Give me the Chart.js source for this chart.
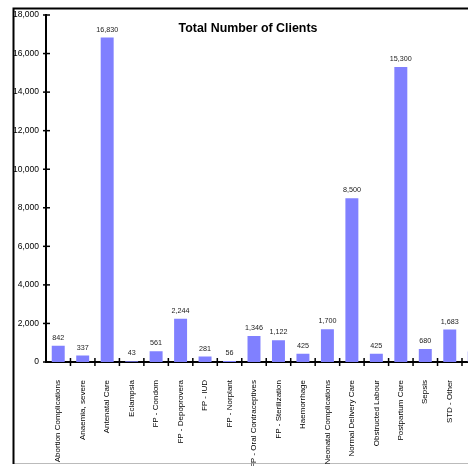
<!DOCTYPE html>
<html>
<head>
<meta charset="utf-8">
<script src="https://cdn.jsdelivr.net/npm/chart.js@4.4.1/dist/chart.umd.min.js"></script>
<style>
    html, body { margin: 0; padding: 0; background: #fff; overflow: hidden; }
    #wrap { position: relative; width: 502px; height: 466px; }
    #chart-title {
        position: absolute; left: 148px; top: 21px; width: 200px; text-align: center;
        font: bold 12.4px "Liberation Sans", Arial, sans-serif; color: #000; white-space: nowrap;
    }
</style>
</head>
<body>
<div id="wrap">
    <canvas id="clientsChart"></canvas>
    <div id="chart-title">Total Number of Clients</div>
</div>
<script>
        // ============= DATA =============
        const categories = [
            'Abortion Complications', 'Anaemia, severe', 'Antenatal Care', 'Eclampsia',
            'FP - Condom', 'FP - Depoprovera', 'FP - IUD', 'FP - Norplant',
            'FP - Oral Contraceptives', 'FP - Sterilization', 'Haemorrhage',
            'Neonatal Complications', 'Normal Delivery Care', 'Obstructed Labour',
            'Postpartum Care', 'Sepsis', 'STD - Other', 'STD - Syphilis'
        ];
        const clientCounts = [
            842, 337, 16830, 43, 561, 2244, 281, 56, 1346, 1122, 425,
            1700, 8500, 425, 15300, 680, 1683, 550
        ];
        const yTicks = [0, 2000, 4000, 6000, 8000, 10000, 12000, 14000, 16000, 18000];

        const FONT = '"Liberation Sans", Arial, sans-serif';
        const fmt = (v) => new Intl.NumberFormat('en-US').format(v);

        // frame around the chart (cropped on the right)
        const framePlugin = {
            id: 'frame',
            beforeDraw(chart) {
                const c = chart.ctx;
                c.save();
                c.strokeStyle = '#bbb';
                c.lineWidth = 1;
                c.beginPath(); c.moveTo(13, 463.5); c.lineTo(chart.width, 463.5); c.stroke();
                c.strokeStyle = '#000';
                c.lineWidth = 2;
                c.beginPath();
                c.moveTo(13.5, 464); c.lineTo(13.5, 8.5); c.lineTo(chart.width, 8.5);
                c.stroke();
                c.restore();
            }
        };

        // excel style cross tick marks + value labels
        const marksPlugin = {
            id: 'marks',
            afterDraw(chart) {
                const c = chart.ctx;
                const xs = chart.scales.x, ys = chart.scales.y;
                const area = chart.chartArea;
                c.save();
                c.strokeStyle = '#000';
                c.lineWidth = 1.5;
                yTicks.forEach(v => {
                    const y = ys.getPixelForValue(v);
                    c.beginPath(); c.moveTo(area.left - 3, y); c.lineTo(area.left + 4, y); c.stroke();
                });
                const w = xs.getPixelForValue(1) - xs.getPixelForValue(0);
                for (let i = 1; i <= categories.length; i++) {
                    const x = xs.getPixelForValue(i) - w / 2;
                    c.beginPath(); c.moveTo(x, area.bottom - 4); c.lineTo(x, area.bottom + 4); c.stroke();
                }
                // value labels
                c.fillStyle = '#222';
                c.font = '7.2px ' + FONT;
                c.textAlign = 'center';
                c.textBaseline = 'alphabetic';
                chart.getDatasetMeta(0).data.forEach((bar, i) => {
                    c.fillText(fmt(clientCounts[i]), bar.x, bar.y - 6);
                });
                c.restore();
            }
        };

        const ctx = document.getElementById('clientsChart').getContext('2d');
        new Chart(ctx, {
            type: 'bar',
            data: {
                labels: categories,
                datasets: [{
                    data: clientCounts,
                    backgroundColor: '#8080FF',
                    borderWidth: 0,
                    barPercentage: 0.53,
                    categoryPercentage: 1
                }]
            },
            options: {
                responsive: true, maintainAspectRatio: false, animation: false,
                layout: { padding: { left: 0, right: 6, top: 15, bottom: 0 } },
                plugins: { legend: { display: false }, tooltip: { enabled: false }, title: { display: false } },
                scales: {
                    x: {
                        grid: { display: false, drawTicks: false },
                        border: { display: true, color: '#000', width: 2 },
                        ticks: {
                            autoSkip: false, maxRotation: 90, minRotation: 90,
                            padding: 18, color: '#000',
                            font: { family: FONT, size: 8 }
                        },
                        afterFit(scale) { scale.height = 104; }
                    },
                    y: {
                        min: 0, max: 18000,
                        grid: { display: false, drawTicks: false },
                        border: { display: true, color: '#000', width: 2 },
                        afterBuildTicks(scale) { scale.ticks = yTicks.map(v => ({ value: v })); },
                        ticks: {
                            padding: 7, color: '#000',
                            font: { family: FONT, size: 8.5 },
                            callback: (v) => fmt(v)
                        },
                        afterFit(scale) { scale.width = 46; }
                    }
                }
            },
            plugins: [framePlugin, marksPlugin]
        });
</script>
</body>
</html>
